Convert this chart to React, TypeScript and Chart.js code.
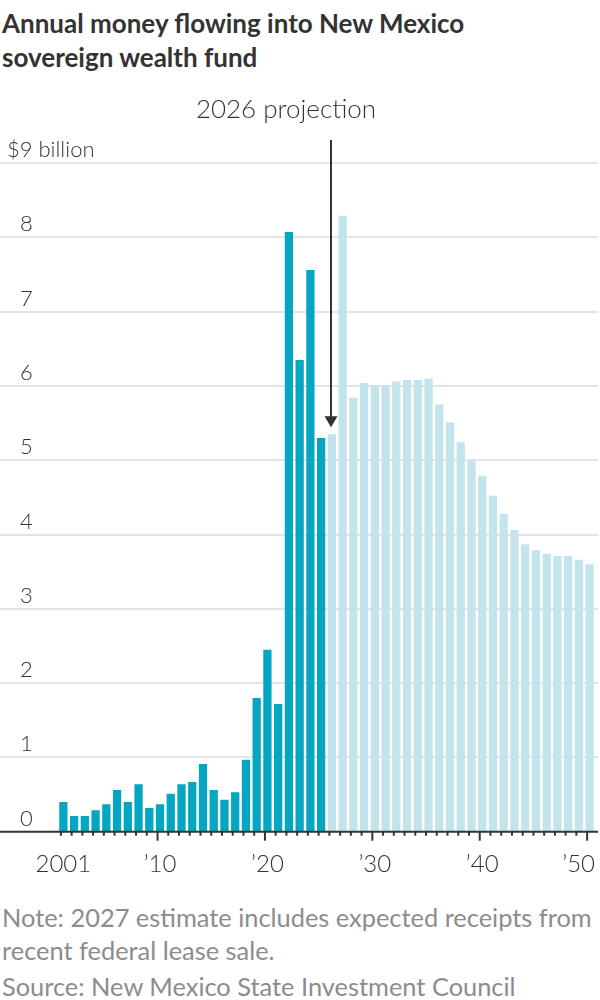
import { useEffect, useRef } from "react";
import { Chart, registerables } from "chart.js";

Chart.register(...registerables);

// Fiscal years shown on the x axis
const years = [
  2001, 2002, 2003, 2004, 2005, 2006, 2007, 2008, 2009, 2010,
  2011, 2012, 2013, 2014, 2015, 2016, 2017, 2018, 2019, 2020,
  2021, 2022, 2023, 2024, 2025, 2026, 2027, 2028, 2029, 2030,
  2031, 2032, 2033, 2034, 2035, 2036, 2037, 2038, 2039, 2040,
  2041, 2042, 2043, 2044, 2045, 2046, 2047, 2048, 2049, 2050,
];

// Actual inflows, $ billion, 2001–2025
const actualValues = [
  0.40, 0.21, 0.21, 0.29, 0.37, 0.56, 0.40, 0.64, 0.32, 0.37,
  0.51, 0.64, 0.67, 0.91, 0.56, 0.43, 0.53, 0.97, 1.80, 2.45,
  1.72, 8.07, 6.35, 7.56, 5.30,
];

// Projected inflows, $ billion, 2026–2050
const projectedValues = [
  5.35, 8.29, 5.84, 6.04, 6.01, 6.01, 6.06, 6.08, 6.08, 6.10,
  5.75, 5.51, 5.24, 5.00, 4.79, 4.52, 4.28, 4.06, 3.87, 3.79,
  3.74, 3.71, 3.71, 3.66, 3.60,
];

const yTickValues = [0, 1, 2, 3, 4, 5, 6, 7, 8, 9];
const yTickLabels = ["0", "1", "2", "3", "4", "5", "6", "7", "8", "$9 billion"];

const xLabelYears = [2001, 2010, 2020, 2030, 2040, 2050];
const xLabelTexts = ["2001", "\u201910", "\u201920", "\u201930", "\u201940", "\u201950"];

const annotationYear = 2026;
const annotationText = "2026 projection";

const titleLines = ["Annual money flowing into New Mexico", "sovereign wealth fund"];
const noteLines = [
  "Note: 2027 estimate includes expected receipts from",
  "recent federal lease sale.",
];
const sourceText = "Source: New Mexico State Investment Council";

const DARK = "#05a6c1";
const LIGHT = "#c4e4ed";
const INK = "#333333";
const GRID = "#e4e4e4";
const FONT = "Lato, 'Noto Sans', sans-serif";
const RIGHT_EDGE = 598;

const actualData = years.map((_, i) => (i < actualValues.length ? actualValues[i] : null));
const projectedData = years.map((_, i) =>
  i >= actualValues.length ? projectedValues[i - actualValues.length] : null
);

const decorations = {
  id: "decorations",
  beforeDatasetsDraw(chart: any) {
    const { ctx } = chart;
    const y = chart.scales.y;
    ctx.save();
    ctx.strokeStyle = GRID;
    ctx.lineWidth = 2;
    yTickValues.forEach((v) => {
      if (v === 0) return;
      const py = Math.round(y.getPixelForValue(v));
      ctx.beginPath();
      ctx.moveTo(0, py);
      ctx.lineTo(RIGHT_EDGE, py);
      ctx.stroke();
    });
    ctx.restore();
  },
  afterDatasetsDraw(chart: any) {
    const { ctx } = chart;
    const x = chart.scales.x;
    const y = chart.scales.y;
    const y0 = y.getPixelForValue(0);
    ctx.save();

    // baseline
    ctx.strokeStyle = INK;
    ctx.lineWidth = 2;
    ctx.beginPath();
    ctx.moveTo(0, y0);
    ctx.lineTo(RIGHT_EDGE, y0);
    ctx.stroke();

    // year ticks, longer at each decade
    years.forEach((yr, i) => {
      const px = x.getPixelForValue(i) - 2.5;
      const len = yr % 10 === 0 ? 9 : 4;
      ctx.beginPath();
      ctx.moveTo(px, y0);
      ctx.lineTo(px, y0 + len);
      ctx.stroke();
    });

    // x labels
    ctx.fillStyle = INK;
    ctx.font = `300 24px ${FONT}`;
    ctx.textBaseline = "alphabetic";
    xLabelYears.forEach((yr, k) => {
      const i = years.indexOf(yr);
      const text = xLabelTexts[k];
      const w = ctx.measureText(text).width;
      let left = x.getPixelForValue(i) - w / 2;
      if (left + w > 595) left = 595 - w;
      ctx.textAlign = "left";
      ctx.fillText(text, left, y0 + 40);
    });

    // y labels above gridlines
    ctx.font = `300 22px ${FONT}`;
    ctx.textAlign = "left";
    yTickValues.forEach((v, k) => {
      const py = y.getPixelForValue(v);
      const label = yTickLabels[k];
      const lx = label.startsWith("$") ? 7 : 20;
      ctx.fillText(label, lx, py - 6);
    });

    // projection arrow
    const ai = years.indexOf(annotationYear);
    const ax = Math.round(x.getPixelForValue(ai)) - 1;
    const tipY = y.getPixelForValue(projectedValues[0]) - 7;
    ctx.strokeStyle = INK;
    ctx.lineWidth = 2;
    ctx.beginPath();
    ctx.moveTo(ax, 55);
    ctx.lineTo(ax, tipY - 8);
    ctx.stroke();
    ctx.fillStyle = INK;
    ctx.beginPath();
    ctx.moveTo(ax - 6.5, tipY - 11);
    ctx.lineTo(ax + 6.5, tipY - 11);
    ctx.lineTo(ax, tipY);
    ctx.closePath();
    ctx.fill();

    ctx.font = `300 26px ${FONT}`;
    ctx.textAlign = "center";
    ctx.fillText(annotationText, ax - 45, 33);

    ctx.restore();
  },
};

function FundChart() {
  const ref = useRef<HTMLCanvasElement | null>(null);
  useEffect(() => {
    if (!ref.current) return;
    const chart = new Chart(ref.current, {
      type: "bar",
      data: {
        labels: years.map(String),
        datasets: [
          {
            label: "Actual",
            data: actualData,
            backgroundColor: DARK,
            grouped: false,
            barPercentage: 0.77,
            categoryPercentage: 1,
          } as any,
          {
            label: "Projection",
            data: projectedData,
            backgroundColor: LIGHT,
            grouped: false,
            barPercentage: 0.77,
            categoryPercentage: 1,
          } as any,
        ],
      },
      options: {
        responsive: false,
        animation: false,
        devicePixelRatio: 1,
        layout: { padding: { left: 58, right: 5, top: 78, bottom: 53.3 } },
        plugins: { legend: { display: false }, tooltip: { enabled: false } },
        scales: {
          x: { display: false, offset: true },
          y: { display: false, min: 0, max: 9 },
        },
      },
      plugins: [decorations],
    });
    return () => chart.destroy();
  }, []);
  return (
    <canvas
      ref={ref}
      width={600}
      height={800}
      style={{ position: "absolute", left: 0, top: 85, width: 600, height: 800 }}
    />
  );
}

export default function App() {
  return (
    <div
      style={{
        position: "absolute",
        left: 0,
        top: 0,
        width: 600,
        height: 1000,
        background: "#fff",
        overflow: "hidden",
      }}
    >
      <div
        style={{
          position: "absolute",
          left: 2,
          top: 6,
          font: `bold 26px ${FONT}`,
          lineHeight: "34px",
          color: INK,
          whiteSpace: "nowrap",
        }}
      >
        {titleLines.map((t) => (
          <div key={t}>{t}</div>
        ))}
      </div>
      <FundChart />
      <div
        style={{
          position: "absolute",
          left: 2,
          top: 901,
          width: 598,
          font: `25.4px ${FONT}`,
          lineHeight: "33px",
          color: "#8c8c8c",
          whiteSpace: "nowrap",
        }}
      >
        {noteLines.map((t) => (
          <div key={t}>{t}</div>
        ))}
        <div style={{ marginTop: 3 }}>{sourceText}</div>
      </div>
    </div>
  );
}
